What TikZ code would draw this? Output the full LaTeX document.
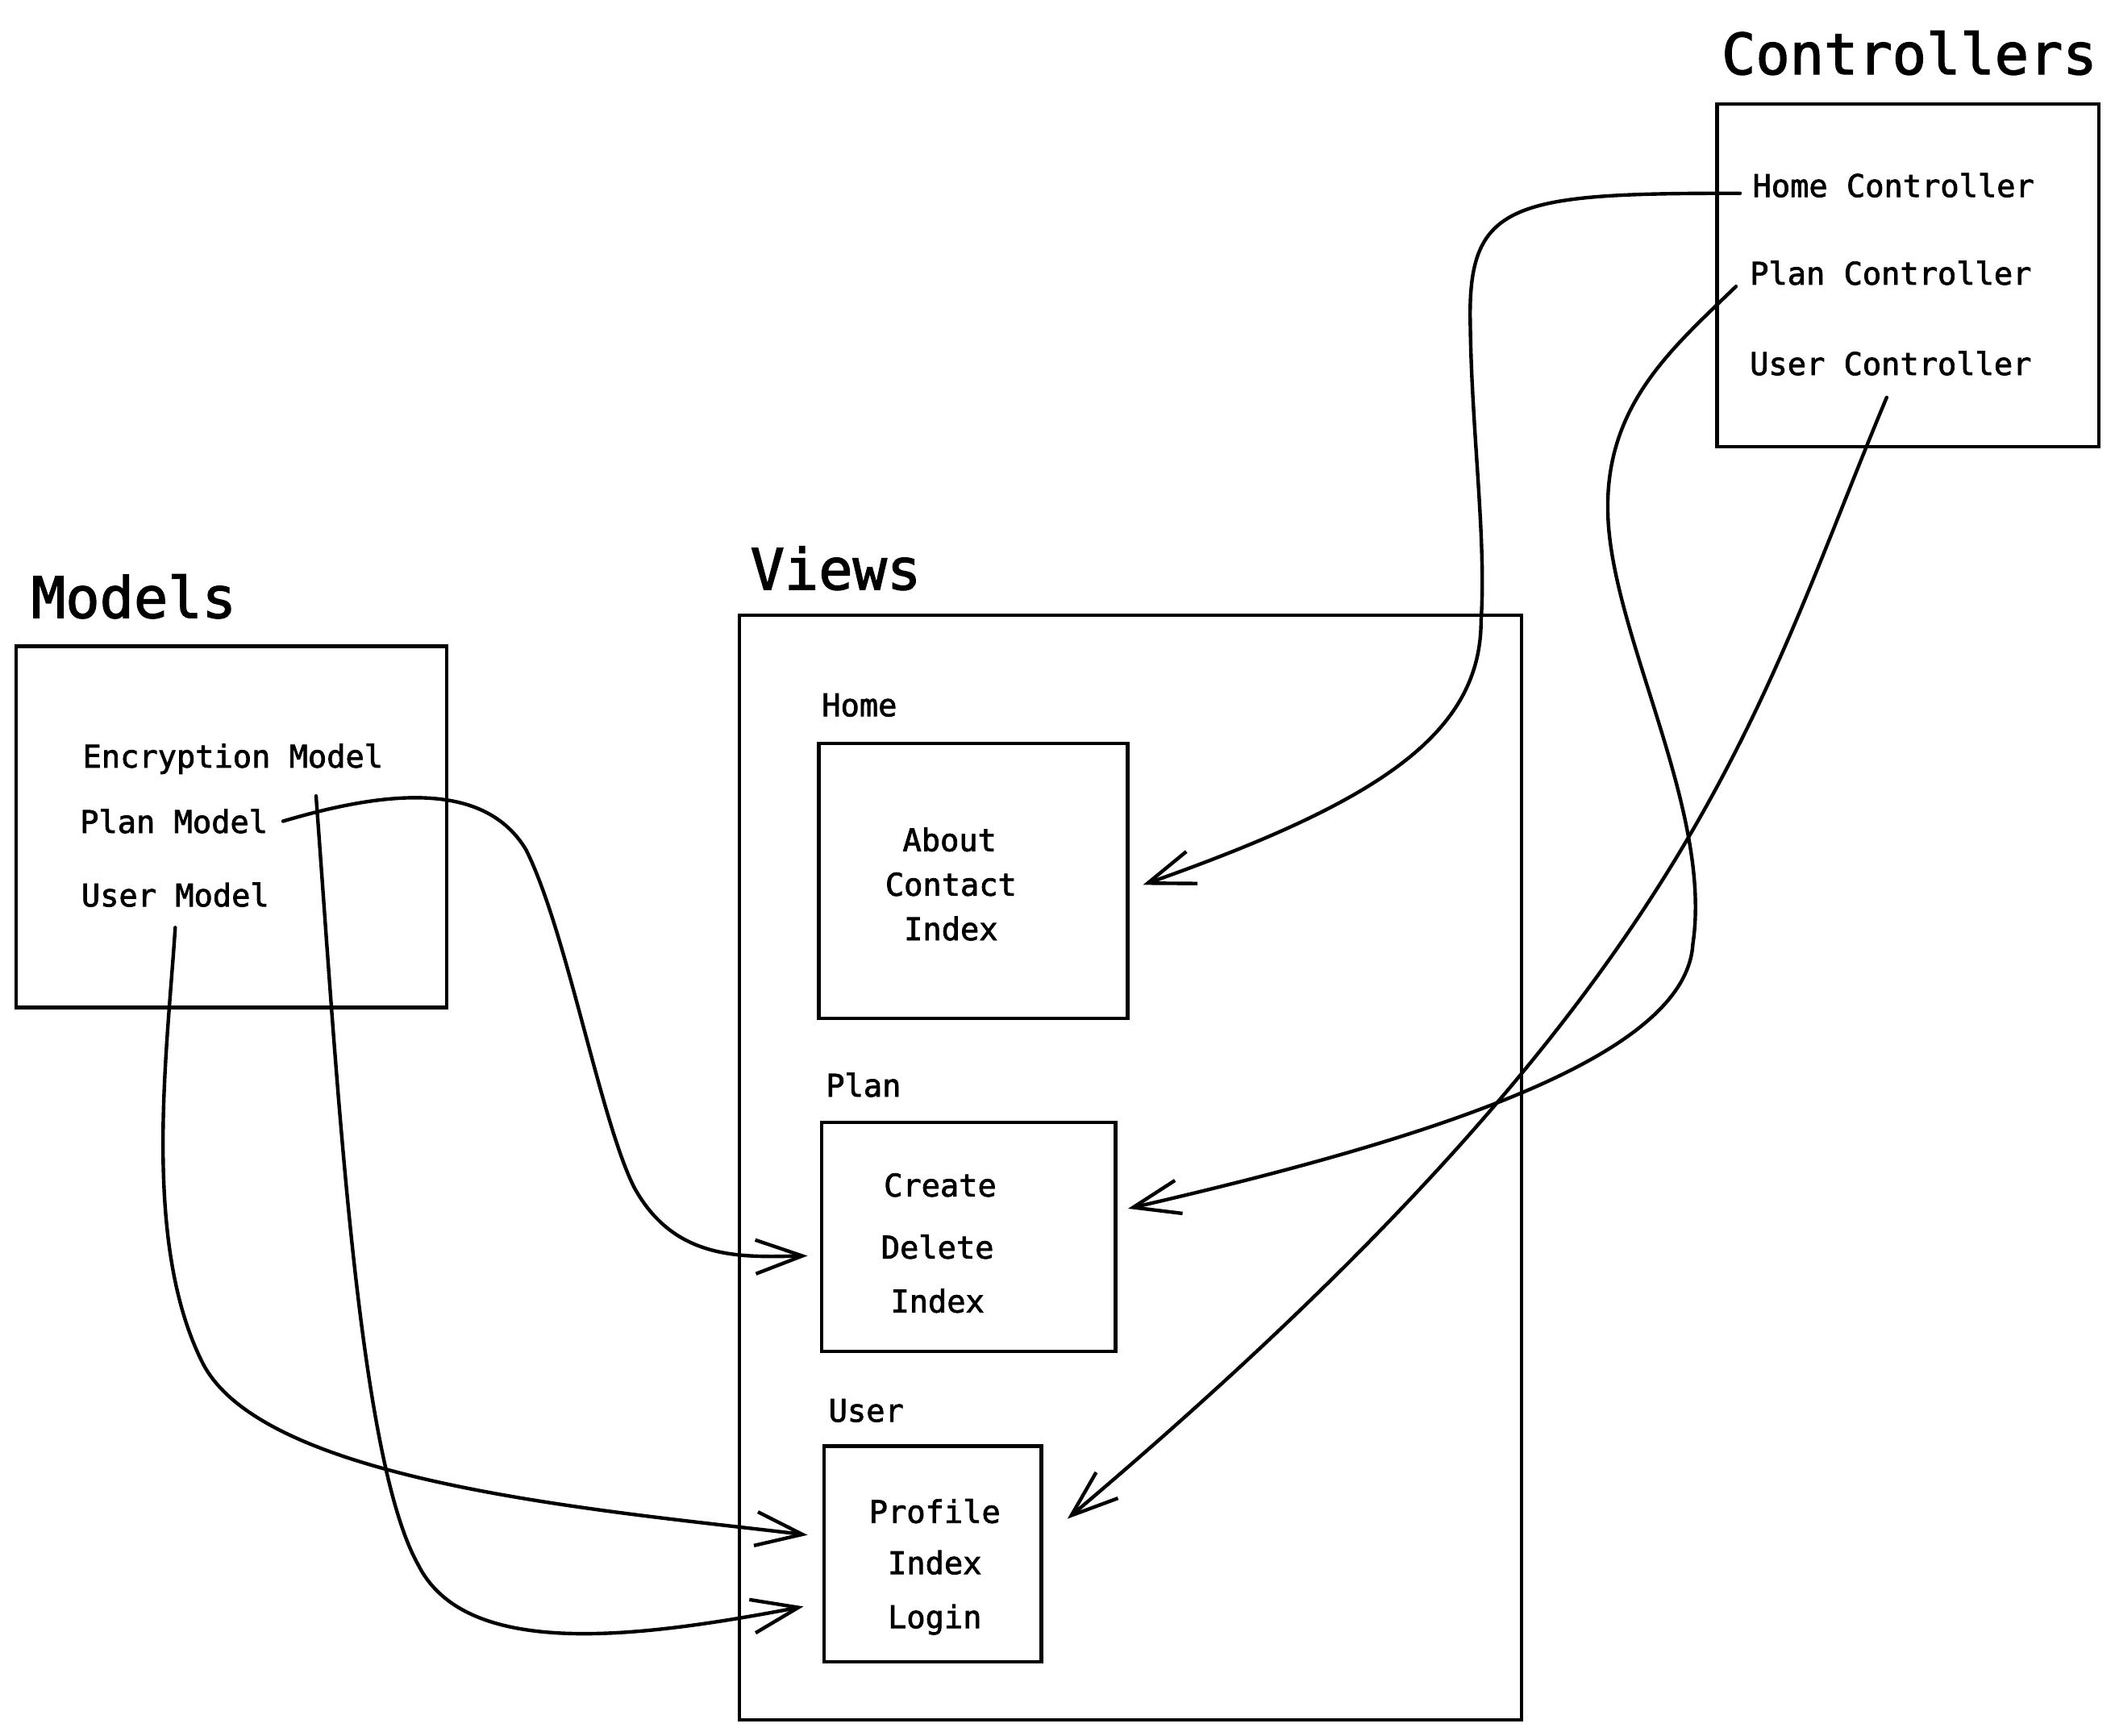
\documentclass[tikz,border=0pt]{standalone}
\usepackage{fontspec}
\setmainfont{DejaVu Sans Mono}
\newfontfamily\heavymono{DejaVu Sans Mono}[RawFeature={embolden=2}]
\usetikzlibrary{calc,arrows.meta,fit}

\begin{document}
\begin{tikzpicture}[x=0.016728cm,y=-0.016728cm,line width=1.25pt,
    heading/.style={inner sep=0pt,anchor=base west,font=\heavymono\fontsize{20}{24}\selectfont},
    entry/.style={inner sep=0pt,anchor=base west,font=\heavymono\fontsize{11}{13}\selectfont},
    action/.style={inner sep=0pt,anchor=base,font=\heavymono\fontsize{11}{13}\selectfont},
    panel/.style={draw,inner sep=0pt,fit={#1}},
    wire/.style={-{Straight Barb[length=0.58cm,width=0.42cm]},line cap=round,line join=round}]
  \useasboundingbox (0,0) rectangle (1568,1287);

  % titles
  \node[heading] (models) at (22,458) {Models};
  \node[heading] (views) at (555,437) {Views};
  \node[heading] (ctrls) at (1275,55) {Controllers};

  % frames
  \node[panel={(12,479) (331,747)}] (mbox) {};
  \node[panel={(548,456) (1128,1275)}] (vbox) {};
  \node[panel={(1273,77) (1556,331)}] (cbox) {};
  \node[panel={(607,551) (836,755)}] (hbox) {};
  \node[panel={(609,832) (827,1002)}] (pbox) {};
  \node[panel={(611,1072) (772,1232)}] (ubox) {};

  % models
  \node[entry] (emodel) at (60,569) {Encryption Model};
  \node[entry] (pmodel) at (58,617.5) {Plan Model};
  \node[entry] (umodel) at (59,672) {User Model};

  % controllers
  \node[entry] (hctl) at (1298,146) {Home Controller};
  \node[entry] (pctl) at (1296,211) {Plan Controller};
  \node[entry] (uctl) at (1296,278) {User Controller};

  % views
  \node[entry] (hlab) at (608,531) {Home};
  \node[entry] (plab) at (611,813) {Plan};
  \node[entry] (ulab) at (613,1054) {User};
  \node[action] (habout) at (704,631) {About};
  \node[action] (hcontact) at (705,664) {Contact};
  \node[action] (hindex) at (705,697) {Index};
  \node[action] (pcreate) at (697,887) {Create};
  \node[action] (pdelete) at (695,933) {Delete};
  \node[action] (pindex) at (695,973) {Index};
  \node[action] (uprofile) at (693,1129) {Profile};
  \node[action] (uindex) at (693,1167) {Index};
  \node[action] (ulogin) at (693,1207) {Login};

  % controllers -> views
  \draw[wire] ($(hctl.west)+(-8,6)$) .. controls (1120,143) and (1088,150) .. (1090,240)
    .. controls (1091,320) and (1102,400) .. (1098,460)
    .. controls (1098,545) and (1020,595) .. ($(hbox.east)+(10,3)$);
  \draw[wire] ($(pctl.west)+(-9,10)$) .. controls (1240,258) and (1190,300) .. (1192,380)
    .. controls (1194,470) and (1270,600) .. (1255,700)
    .. controls (1250,780) and (1080,840) .. ($(pbox.east)+(8,-21)$);
  \draw[wire] ($(uctl.south)+(-3,15)$) .. controls (1300,530) and (1260,730) .. ($(ubox.east)+(18,-26)$);

  % models -> views
  \draw[wire] ($(pmodel.east)+(10,0)$) .. controls (290,585) and (360,580) .. (390,630)
    .. controls (420,690) and (445,830) .. (470,880)
    .. controls (500,935) and (550,932) .. ($(pbox.west)+(-9,14)$);
  \draw[wire] ($(umodel.south)+(0,14)$) .. controls (124,780) and (105,920) .. (150,1010)
    .. controls (195,1100) and (450,1120) .. ($(ubox.west)+(-11,-14)$);
  \draw[wire] ($(emodel.south east)+(-51,15)$) .. controls (250,800) and (265,1080) .. (310,1160)
    .. controls (345,1230) and (470,1215) .. ($(ubox.west)+(-14,39)$);
\end{tikzpicture}
\end{document}
